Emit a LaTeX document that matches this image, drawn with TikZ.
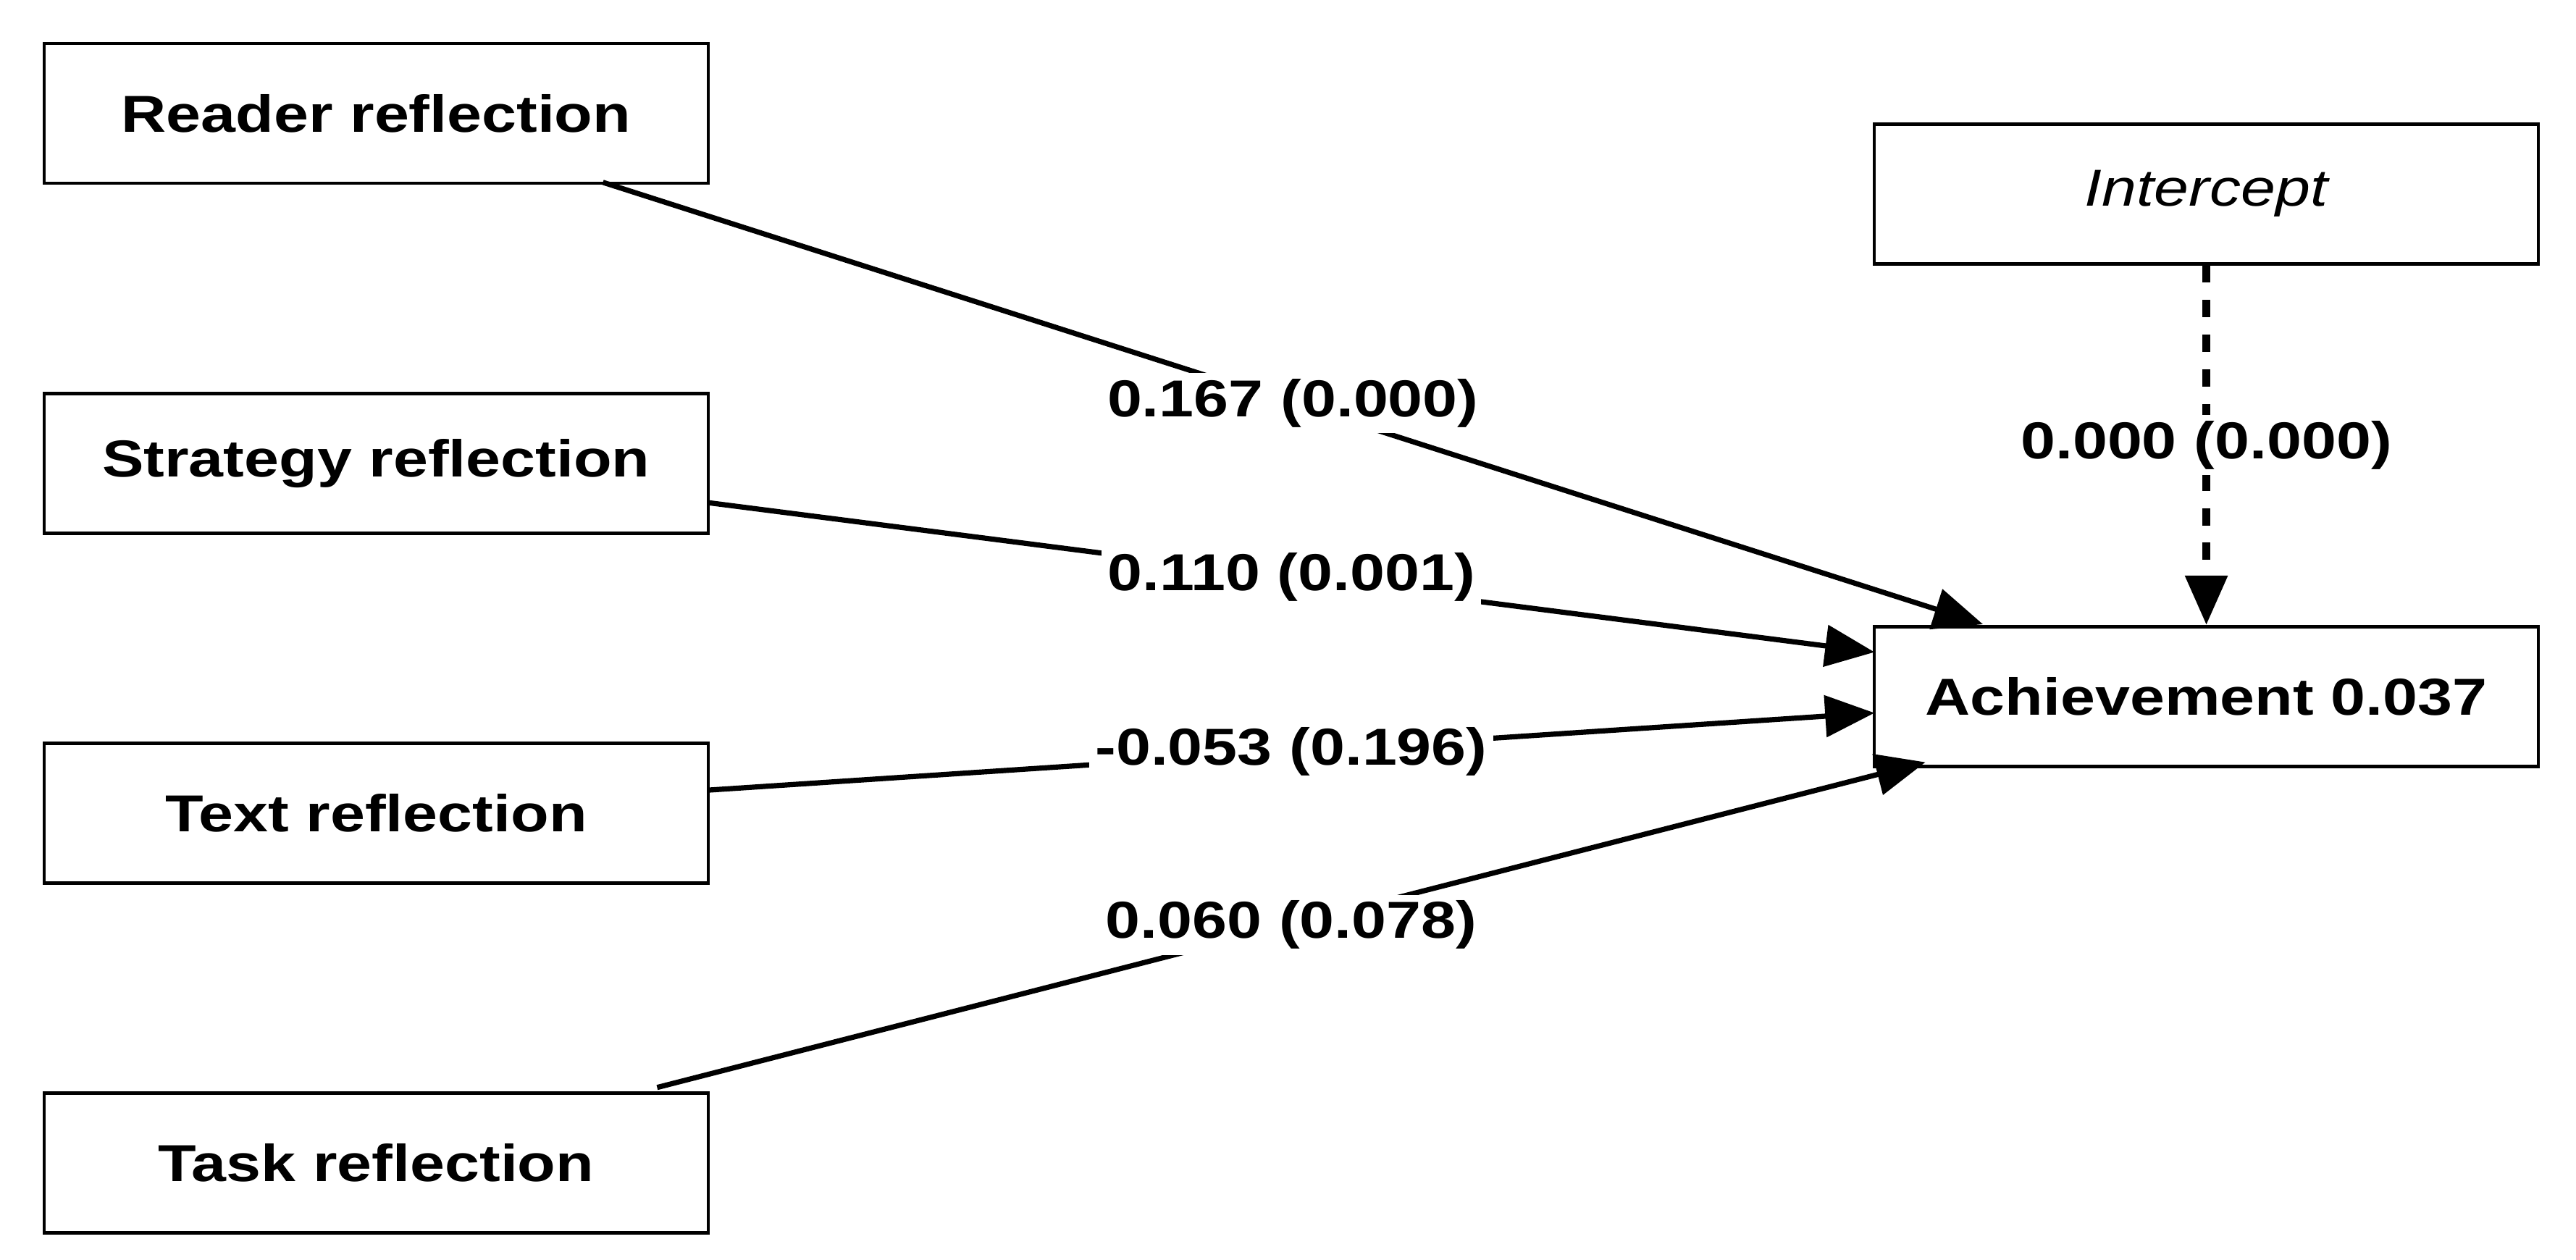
\documentclass[tikz,border=0pt]{standalone}
\usepackage{fontspec}
\setmainfont{Liberation Sans}[FakeStretch=1.2]
\usetikzlibrary{arrows.meta}
\begin{document}
\begin{tikzpicture}[x=0.01cm,y=-0.01cm,
  box/.style={draw,line width=0.6pt,minimum width=4.04cm,minimum height=0.85cm,font=\bfseries\fontsize{9}{11}\selectfont,inner sep=0},
  edge/.style={line width=0.9pt,-{Triangle[length=0.3cm,width=0.25cm]}},
  lab/.style={fill=white,font=\bfseries\fontsize{9}{11}\selectfont,inner sep=1pt}]
\useasboundingbox (0,0) rectangle (1568,767);
\node[box] (r) at (229,69) {Reader reflection};
\node[box] (s) at (229,282) {Strategy reflection};
\node[box] (t) at (229,495) {Text reflection};
\node[box] (k) at (229,708) {Task reflection};
\node[box,font=\itshape\fontsize{9}{11}\selectfont] (i) at (1343,118) {Intercept};
\node[box] (a) at (1343,424) {Achievement 0.037};
\coordinate (r1) at (367,111); \coordinate (r2) at (1207,380);
\coordinate (s1) at (431,306); \coordinate (s2) at (1141,397);
\coordinate (t1) at (431,481); \coordinate (t2) at (1141,434);
\coordinate (k1) at (400,662); \coordinate (k2) at (1172,464);
\draw[edge] (r1) -- (r2) node[lab,pos=0.5] {0.167 (0.000)};
\draw[edge] (s1) -- (s2) node[lab,pos=0.5] {0.110 (0.001)};
\draw[edge] (t1) -- (t2) node[lab,pos=0.5] {-0.053 (0.196)};
\draw[edge] (k1) -- (k2) node[lab,pos=0.5] {0.060 (0.078)};
\draw[edge,dashed,line width=1.3pt] (i) -- (a) node[lab,pos=0.5] {0.000 (0.000)};
\end{tikzpicture}
\end{document}
